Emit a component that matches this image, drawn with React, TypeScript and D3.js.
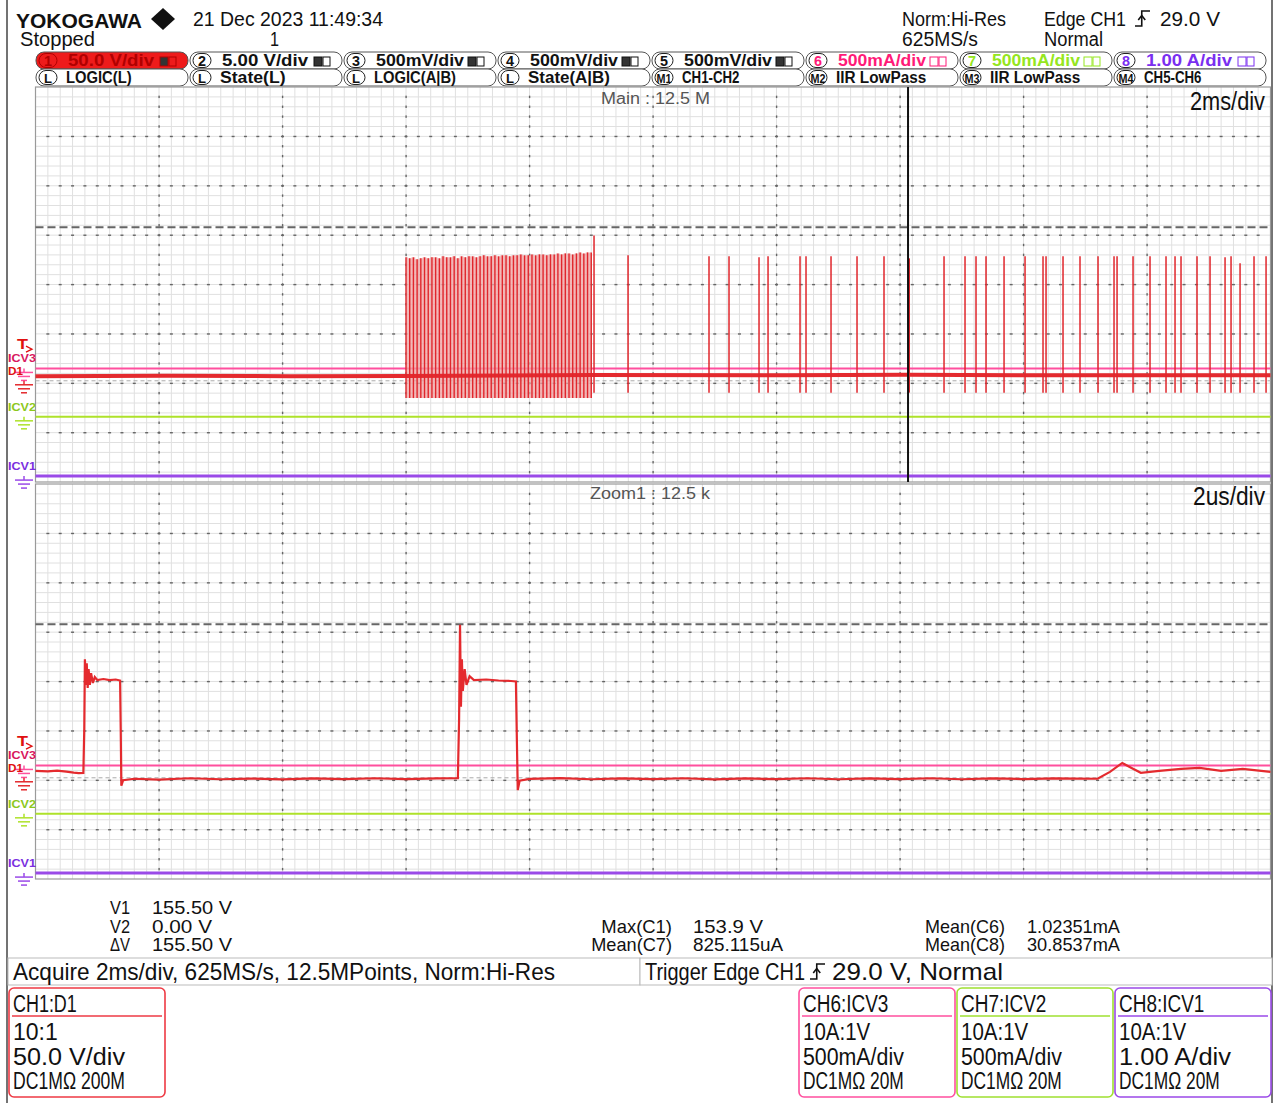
import * as d3 from "d3";

const FONT = "'Liberation Sans', Arial, sans-serif";

const RED = "#e42a2e";
const PINK = "#ff4f9e";
const GREEN = "#aee22a";
const PURPLE = "#9a4ae8";

// ---------- values ----------
const mainTimeDomain = [-14.13, 5.87]; // ms, 2 ms/div, trigger at 0
const zoomTimeDomain = [0, 20]; // us, 2 us/div

const ch1Position = -1.95; // div from centre
const ch1VoltsPerDiv = 50;
const cursorV1 = 155.5;
const cursorV2 = 0;
const triggerLevel = 29;

const channelNames = ["ICV3", "ICV2", "ICV1"];
const channelColors = [PINK, GREEN, PURPLE];
const channelLabelColors = ["#d8175e", "#8cc81c", "#7b2fe0"];
const channelPositions = [-1.7, -2.68, -3.88];

const mainBaseline: [number, number][] = [
  [-14.13, 4.6], [-12, 5.1], [-10, 4.7], [-8.13, 4.9], [-5.1, 5.8], [-2, 5.6], [0, 6], [3, 5.5], [5.87, 5.6],
];

const burstTimes = [
  -8.13, -8.07, -8.01, -7.95, -7.89, -7.83, -7.77, -7.71, -7.65, -7.59, -7.53, -7.47, -7.41, -7.35, -7.29, -7.23,
  -7.17, -7.11, -7.05, -6.99, -6.93, -6.87, -6.81, -6.75, -6.69, -6.63, -6.57, -6.51, -6.45, -6.39, -6.33, -6.27,
  -6.21, -6.15, -6.09, -6.03, -5.97, -5.91, -5.85, -5.79, -5.73, -5.67, -5.61, -5.55, -5.49, -5.43, -5.37, -5.31,
  -5.25, -5.19, -5.13,
];
const burstTops = [
  125, 124, 125, 123, 124, 125, 124, 125, 125, 124, 126, 125, 125, 126, 124, 126, 125, 126, 126, 125, 126, 127, 126,
  126, 127, 126, 127, 127, 126, 127, 127, 128, 127, 127, 128, 127, 128, 128, 127, 128, 128, 129, 128, 129, 129, 128,
  129, 130, 129, 130, 130,
];
const burstBottom = -17.5;

const spikeTimes = [
  -5.085, -4.534, -3.223, -2.899, -2.413, -2.267, -1.749, -1.652, -1.247, -0.826, -0.389, 0.02, 0.583, 0.923, 1.101,
  1.263, 1.555, 1.895, 2.186, 2.235, 2.51, 2.785, 3.077, 3.336, 3.385, 3.644, 3.919, 4.178, 4.324, 4.421, 4.68, 4.891,
  5.134, 5.231, 5.377, 5.603, 5.798,
];
const spikeTops = [
  147, 127, 126, 126, 125, 126, 126, 126, 126, 126, 126, 124, 126, 126, 126, 126, 126, 126, 126, 126, 126, 126, 126,
  126, 126, 126, 126, 126, 126, 126, 126, 126, 125, 126, 119, 126, 126,
];
const spikeBottom = -12;

const zoomWave: [number, number][] = [
  [0, 7], [0.2, 6.5], [0.35, 7.2], [0.5, 6.2], [0.62, 5.2], [0.7, 4.8], [0.775, 4.9], [0.79, 50], [0.8, 120],
  [0.815, 94], [0.83, 116], [0.845, 91], [0.86, 110], [0.88, 94], [0.9, 106], [0.93, 96], [0.96, 102], [1.0, 99],
  [1.1, 100], [1.2, 99], [1.3, 99.5], [1.37, 98.5], [1.38, 50], [1.39, -8], [1.42, -2.5], [1.6, -1], [2, -1.8],
  [2.5, -0.5], [3, -1.5], [3.5, -0.8], [4, -1.6], [4.5, -0.6], [5, -1.4], [5.5, -0.5], [6, -1.3], [6.5, -0.7],
  [6.84, -0.5], [6.86, 60], [6.875, 155], [6.89, 72], [6.905, 120], [6.92, 88], [6.95, 110], [6.98, 94], [7.03, 103],
  [7.1, 99], [7.3, 99.5], [7.5, 98.5], [7.7, 98], [7.78, 97.5], [7.795, 40], [7.81, -12.5], [7.84, -3], [8, -1.2],
  [8.5, -0.4], [9, -1.5], [9.5, -0.6], [10, -1.4], [10.5, -0.5], [11, -1.6], [11.5, -0.7], [12, -1.3], [12.5, -0.5],
  [13, -1.5], [13.5, -0.6], [14, -1.4], [14.5, -0.5], [15, -1.5], [15.5, -0.7], [16, -1.3], [16.5, -0.6], [17.2, -1],
  [17.4, 6], [17.6, 15], [17.75, 10], [17.9, 5], [18.2, 7], [18.55, 9], [18.85, 10], [19.2, 7], [19.55, 9], [20, 6],
];

const cellNumbers = ["1", "2", "3", "4", "5", "6", "7", "8"];
const cellScales = ["50.0 V/div", "5.00 V/div", "500mV/div", "500mV/div", "500mV/div", "500mA/div", "500mA/div", "1.00 A/div"];
const cellColors = ["#b00000", "#111", "#111", "#111", "#111", "#ff1a78", "#95e620", "#7a2ff0"];
const mathBadges = ["L", "L", "L", "L", "M1", "M2", "M3", "M4"];
const mathNames = ["LOGIC(L)", "State(L)", "LOGIC(A|B)", "State(A|B)", "CH1-CH2", "IIR LowPass", "IIR LowPass", "CH5-CH6"];

const cursorLabels = ["V1", "V2", "ΔV"];
const cursorValues = ["155.50 V", "0.00 V", "155.50 V"];
const measLeftNames = ["Max(C1)", "Mean(C7)"];
const measLeftValues = ["153.9 V", "825.115uA"];
const measRightNames = ["Mean(C6)", "Mean(C8)"];
const measRightValues = ["1.02351mA", "30.8537mA"];

const infoTitles = ["CH1:D1", "CH6:ICV3", "CH7:ICV2", "CH8:ICV1"];
const infoLines = [
  ["10:1", "50.0 V/div", "DC1MΩ 200M"],
  ["10A:1V", "500mA/div", "DC1MΩ 20M"],
  ["10A:1V", "500mA/div", "DC1MΩ 20M"],
  ["10A:1V", "1.00 A/div", "DC1MΩ 20M"],
];
const infoColors = ["#ee3a44", "#ff4f9e", "#9fe030", "#9a4ae8"];

// ---------- layout ----------
const X0 = 35.5;
const X1 = 1270.5;
const MAIN_TOP = 87;
const MAIN_BOT = 482;
const ZOOM_TOP = 484;
const ZOOM_BOT = 879;

function Txt({ x, y, size = 20, w, fill = "#111", weight = 400, anchor = "start", children }: any) {
  return (
    <text
      x={x}
      y={y}
      fontSize={size}
      fontFamily={FONT}
      fontWeight={weight}
      fill={fill}
      textAnchor={anchor}
      textLength={w}
      lengthAdjust={w ? "spacingAndGlyphs" : undefined}
    >
      {children}
    </text>
  );
}

function EdgeIcon({ x, y, w, h }: any) {
  const m = x + w * 0.45;
  return (
    <g stroke="#111" strokeWidth={1.6} fill="none">
      <path d={`M${x},${y + h} H${m} V${y} H${x + w}`} />
      <path d={`M${m - 3.5},${y + h * 0.6} L${m},${y + h * 0.3} L${m + 3.5},${y + h * 0.6}`} />
    </g>
  );
}

function Grid({ top, bottom }: { top: number; bottom: number }) {
  const gx = d3.scaleLinear().domain([0, 100]).range([X0, X1]);
  const gy = d3.scaleLinear().domain([0, 40]).range([top, bottom]);
  const xs = d3.range(1, 100);
  const ys = d3.range(1, 40);
  const majorX = d3.range(10, 100, 10);
  const majorY = d3.range(5, 40, 5);
  return (
    <g>
      {xs.map((i) => (
        <line key={"vx" + i} x1={gx(i)} x2={gx(i)} y1={top} y2={bottom} stroke="#e0e0e0" strokeWidth={1} />
      ))}
      {ys.map((j) => (
        <line key={"hy" + j} x1={X0} x2={X1} y1={gy(j)} y2={gy(j)} stroke="#e0e0e0" strokeWidth={1} />
      ))}
      {majorY.map((j) =>
        xs.map((i) => <rect key={`d${j}-${i}`} x={gx(i) - 1.5} y={gy(j) - 0.6} width={3} height={1.4} fill="#666" />),
      )}
      {majorX.map((i) =>
        ys.map((j) => <rect key={`e${i}-${j}`} x={gx(i) - 0.6} y={gy(j) - 1.2} width={1.4} height={2.4} fill="#666" />),
      )}
      <rect x={X0} y={top} width={X1 - X0} height={bottom - top} fill="none" stroke="#9a9a9a" strokeWidth={1.2} />
    </g>
  );
}

function Markers({ div }: { div: (d: number) => number }) {
  const ch1Y = div(ch1Position);
  const trigY = div(ch1Position + triggerLevel / ch1VoltsPerDiv);
  const ground = (y: number, color: string, key: string) => (
    <g key={key} stroke={color} strokeWidth={1.5}>
      <line x1={24} x2={24} y1={y} y2={y + 4} />
      <line x1={15} x2={33} y1={y + 4} y2={y + 4} />
      <line x1={18} x2={30} y1={y + 8} y2={y + 8} />
      <line x1={21} x2={27} y1={y + 12} y2={y + 12} />
    </g>
  );
  return (
    <g>
      {channelNames.map((n, i) => {
        const y = div(channelPositions[i]);
        return (
          <g key={n}>
            {ground(y, channelColors[i], "g" + n)}
            <Txt x={8} y={y - 6} size={11} w={28} weight={700} fill={channelLabelColors[i]}>
              {n}
            </Txt>
          </g>
        );
      })}
      {ground(ch1Y, RED, "gch1")}
      <Txt x={8} y={ch1Y - 6} size={11} w={15} weight={700} fill="#e01010">
        D1
      </Txt>
      <Txt x={17} y={trigY - 3} size={14} w={11} weight={700} fill="#e01010">
        T
      </Txt>
      <path d={`M${26},${trigY - 6} l6,3 l-6,3`} fill="none" stroke="#e01010" strokeWidth={1.3} />
    </g>
  );
}

export default function App() {
  const xMain = d3.scaleLinear().domain(mainTimeDomain).range([X0, X1]);
  const xZoom = d3.scaleLinear().domain(zoomTimeDomain).range([X0, X1]);
  const divMain = d3.scaleLinear().domain([-4, 4]).range([MAIN_BOT, MAIN_TOP]);
  const divZoom = d3.scaleLinear().domain([-4, 4]).range([ZOOM_BOT, ZOOM_TOP]);
  const vMain = (v: number) => divMain(ch1Position + v / ch1VoltsPerDiv);
  const vZoom = (v: number) => divZoom(ch1Position + v / ch1VoltsPerDiv);

  const mainLine = d3
    .line<[number, number]>()
    .x((d) => xMain(d[0]))
    .y((d) => vMain(d[1]));
  const zoomLine = d3
    .line<[number, number]>()
    .x((d) => xZoom(d[0]))
    .y((d) => vZoom(d[1]));
  const burstArea = d3
    .area<number>()
    .x((t) => xMain(t))
    .y0(vMain(burstBottom))
    .y1((_, i) => vMain(burstTops[i]))
    .curve(d3.curveStep);

  const cellX = d3.scaleLinear().domain([0, 8]).range([36, 1268]);
  const cellW = cellX(1) - cellX(0);

  const flatTraces = (x: any, div: any) => (
    <g>
      {channelNames.map((n, i) => (
        <line
          key={n}
          x1={x.range()[0]}
          x2={x.range()[1]}
          y1={div(channelPositions[i])}
          y2={div(channelPositions[i])}
          stroke={channelColors[i]}
          strokeWidth={i === 2 ? 3 : 2}
        />
      ))}
    </g>
  );

  return (
    <svg width={1276} height={1103} style={{ position: "absolute", left: 0, top: 0, background: "#fff" }} fontFamily={FONT}>
      <rect x={0} y={0} width={1276} height={1103} fill="#fff" />
      <line x1={7} x2={7} y1={0} y2={1103} stroke="#444" strokeWidth={1.5} />
      <line x1={1272} x2={1272} y1={0} y2={1103} stroke="#444" strokeWidth={1.5} />

      {/* header */}
      <Txt x={16} y={28} size={21} w={126} weight={700}>
        YOKOGAWA
      </Txt>
      <path d="M163,8 L175,19 L163,30 L151,19 Z" fill="#111" />
      <Txt x={193} y={26} size={21} w={190}>
        21 Dec 2023 11:49:34
      </Txt>
      <Txt x={20} y={46} size={20} w={75}>
        Stopped
      </Txt>
      <Txt x={270} y={46} size={20} w={9}>
        1
      </Txt>
      <Txt x={902} y={26} size={21} w={104}>
        Norm:Hi-Res
      </Txt>
      <Txt x={902} y={46} size={20} w={76}>
        625MS/s
      </Txt>
      <Txt x={1044} y={26} size={21} w={82}>
        Edge CH1
      </Txt>
      <EdgeIcon x={1135} y={11} w={15} h={15} />
      <Txt x={1160} y={26} size={21} w={60}>
        29.0 V
      </Txt>
      <Txt x={1044} y={46} size={20} w={59}>
        Normal
      </Txt>

      {/* channel bar */}
      {cellNumbers.map((n, k) => {
        const cx = cellX(k);
        const first = k === 0;
        return (
          <g key={"c" + n}>
            <rect x={cx} y={52} width={cellW - 2} height={17} rx={8} fill={first ? "#ee1b1b" : "#fff"} stroke="#555" />
            <rect x={cx + 3} y={53.5} width={18} height={14} rx={7} fill="none" stroke={first ? "#b00000" : "#222"} />
            <Txt x={cx + 12} y={66} size={14} w={8} anchor="middle" weight={700} fill={cellColors[k]}>
              {n}
            </Txt>
            <Txt x={cx + 32} y={66} size={16} w={k === 0 || k === 1 || k === 7 ? 86 : 88} weight={700} fill={cellColors[k]}>
              {cellScales[k]}
            </Txt>
            <rect x={cx + 124} y={57} width={8} height={9} fill={k < 5 ? "#333" : "none"} stroke={cellColors[k]} />
            <rect x={cx + 133} y={57} width={7} height={9} fill="none" stroke={cellColors[k]} />
            <rect x={cx} y={69} width={cellW - 2} height={17} rx={8} fill="#fff" stroke="#555" />
            <rect x={cx + 3} y={70.5} width={18} height={14} rx={7} fill="none" stroke="#222" />
            <Txt x={cx + 12} y={82.5} size={12} w={mathBadges[k].length > 1 ? 15 : 8} anchor="middle" weight={700}>
              {mathBadges[k]}
            </Txt>
            <Txt x={cx + 30} y={83} size={16} w={mathNames[k].length * 8.2} weight={700}>
              {mathNames[k]}
            </Txt>
          </g>
        );
      })}

      {/* main window */}
      <Grid top={MAIN_TOP} bottom={MAIN_BOT} />
      <line x1={X0} x2={X1} y1={vMain(cursorV2)} y2={vMain(cursorV2)} stroke="#aaa" strokeDasharray="4 3" />
      <line x1={X0} x2={X1} y1={vMain(cursorV1)} y2={vMain(cursorV1)} stroke="#666" strokeWidth={2} strokeDasharray="8 4" />
      {flatTraces(xMain, divMain)}
      <path d={burstArea(burstTimes) ?? ""} fill="#efa0a0" opacity={0.75} />
      <path d={mainLine(mainBaseline) ?? ""} fill="none" stroke={RED} strokeWidth={4} />
      {burstTimes.map((t, i) => (
        <line key={"b" + i} x1={xMain(t)} x2={xMain(t)} y1={vMain(burstBottom)} y2={vMain(burstTops[i])} stroke="#e0262c" strokeWidth={1.4} />
      ))}
      {spikeTimes.map((t, i) => (
        <line key={"s" + i} x1={xMain(t)} x2={xMain(t)} y1={vMain(spikeBottom)} y2={vMain(spikeTops[i])} stroke="#e0262c" strokeWidth={1.5} />
      ))}
      <line x1={xMain(0)} x2={xMain(0)} y1={MAIN_TOP} y2={MAIN_BOT} stroke="#111" strokeWidth={2} />
      <Markers div={divMain} />
      <Txt x={601} y={104} size={16} w={109} fill="#555">
        Main : 12.5 M
      </Txt>
      <Txt x={1190} y={110} size={25} w={75}>
        2ms/div
      </Txt>

      {/* zoom window */}
      <Grid top={ZOOM_TOP} bottom={ZOOM_BOT} />
      <line x1={X0} x2={X1} y1={vZoom(cursorV2)} y2={vZoom(cursorV2)} stroke="#aaa" strokeDasharray="4 3" />
      <line x1={X0} x2={X1} y1={vZoom(cursorV1)} y2={vZoom(cursorV1)} stroke="#666" strokeWidth={2} strokeDasharray="8 4" />
      {flatTraces(xZoom, divZoom)}
      <path d={zoomLine(zoomWave) ?? ""} fill="none" stroke={RED} strokeWidth={2.2} />
      <Markers div={divZoom} />
      <Txt x={590} y={499} size={16} w={120} fill="#555">
        Zoom1 : 12.5 k
      </Txt>
      <Txt x={1193} y={505} size={25} w={72}>
        2us/div
      </Txt>

      {/* cursor / measurement readouts */}
      {cursorLabels.map((l, i) => (
        <g key={l}>
          <Txt x={110} y={914 + i * 18.5} size={19} w={20}>
            {l}
          </Txt>
          <Txt x={152} y={914 + i * 18.5} size={19} w={cursorValues[i].length * 10}>
            {cursorValues[i]}
          </Txt>
        </g>
      ))}
      {measLeftNames.map((n, i) => (
        <g key={n}>
          <Txt x={672} y={933 + i * 18} size={19} w={n.length * 10.1} anchor="end">
            {n}
          </Txt>
          <Txt x={693} y={933 + i * 18} size={19} w={measLeftValues[i].length * 10}>
            {measLeftValues[i]}
          </Txt>
        </g>
      ))}
      {measRightNames.map((n, i) => (
        <g key={n}>
          <Txt x={1005} y={933 + i * 18} size={19} w={80} anchor="end">
            {n}
          </Txt>
          <Txt x={1027} y={933 + i * 18} size={19} w={93}>
            {measRightValues[i]}
          </Txt>
        </g>
      ))}

      {/* status bar */}
      <rect x={8} y={958} width={632} height={27} fill="#fff" stroke="#bbb" />
      <rect x={640} y={958} width={632} height={27} fill="#fff" stroke="#bbb" />
      <Txt x={13} y={980} size={24} w={542}>
        Acquire 2ms/div, 625MS/s, 12.5MPoints, Norm:Hi-Res
      </Txt>
      <Txt x={645} y={980} size={24} w={160}>
        Trigger Edge CH1
      </Txt>
      <EdgeIcon x={810} y={964} w={15} h={15} />
      <Txt x={832} y={980} size={24} w={171}>
        29.0 V, Normal
      </Txt>

      {/* channel info boxes */}
      {infoTitles.map((t, k) => {
        const bx = k === 0 ? 8 : 798 + (k - 1) * 158;
        return (
          <g key={t}>
            <rect x={bx + 1} y={988} width={156} height={109} rx={5} fill="#fff" stroke={infoColors[k]} strokeWidth={1.6} />
            <line x1={bx + 4} x2={bx + 154} y1={1016} y2={1016} stroke={infoColors[k]} strokeWidth={1.6} />
            <Txt x={bx + 5} y={1012} size={23} w={t.length * 10.8 - 1}>
              {t}
            </Txt>
            {infoLines[k].map((l, j) => (
              <Txt key={j} x={bx + 5} y={1040 + j * 24.5} size={23} w={l.length * 11.2}>
                {l}
              </Txt>
            ))}
          </g>
        );
      })}
    </svg>
  );
}
